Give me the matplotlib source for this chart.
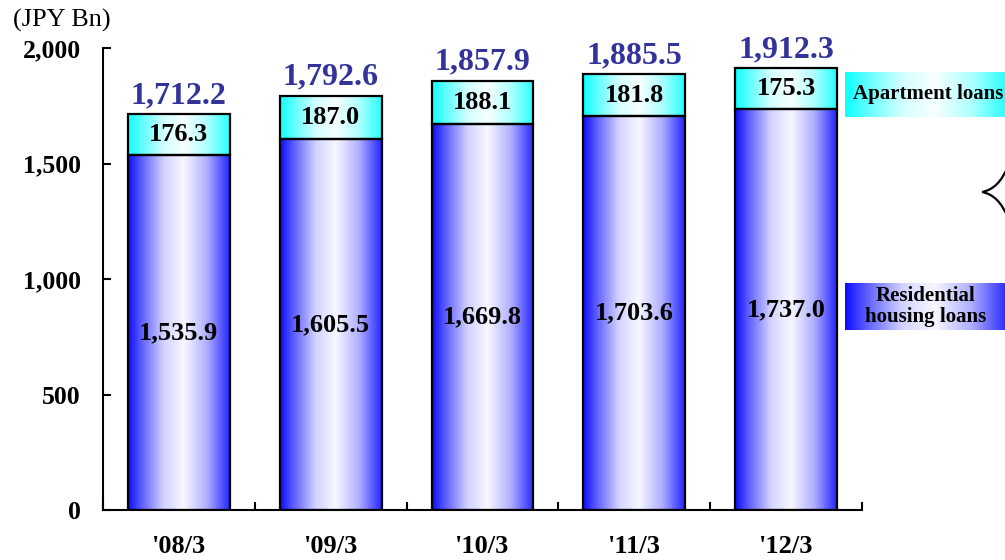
"""Housing loan balance by fiscal year end: residential vs apartment loans."""
import numpy as np
import matplotlib
matplotlib.use("Agg")
import matplotlib.pyplot as plt
from matplotlib.path import Path as MPath
from matplotlib.patches import PathPatch

plt.rcParams["font.family"] = ["Liberation Serif", "DejaVu Serif"]

# ── data ────────────────────────────────────────────────────────────────
periods = ["'08/3", "'09/3", "'10/3", "'11/3", "'12/3"]
residential = [1535.9, 1605.5, 1669.8, 1703.6, 1737.0]
apartment = [176.3, 187.0, 188.1, 181.8, 175.3]
totals = [1712.2, 1792.6, 1857.9, 1885.5, 1912.3]
y_ticks = [0, 500, 1000, 1500, 2000]

TOTAL_COLOR = "#333399"
BAR_WIDTH = 0.67


def gradient(edge, n=256):
    """Horizontal gradient: saturated edges, near-white just right of centre."""
    edge = np.array(edge, dtype=float)
    white = np.array([0.97, 0.97, 1.0])
    stops = [0.0, 0.12, 0.35, 0.55, 0.78, 1.0]
    mix = [0.05, 0.35, 0.85, 1.0, 0.7, 0.15]   # 0 = edge colour, 1 = white
    xs = np.linspace(0, 1, n)
    t = np.interp(xs, stops, mix)
    rgb = edge[None, :] * (1 - t[:, None]) + white[None, :] * t[:, None]
    return rgb[None, :, :]


BLUE_GRAD = gradient((0.0, 0.0, 1.0))
CYAN_GRAD = gradient((0.0, 1.0, 1.0))
CYAN_GRAD[..., 1] = 1.0
CYAN_GRAD[..., 2] = 1.0

fig = plt.figure(figsize=(10.05, 5.6), dpi=100)
ax = fig.add_axes([103 / 1005, 1 - 510 / 560, 759 / 1005, 462 / 560])

x = np.arange(len(periods))
for i, (r, a, tot) in enumerate(zip(residential, apartment, totals)):
    x0, x1 = i - BAR_WIDTH / 2, i + BAR_WIDTH / 2
    ax.imshow(BLUE_GRAD, extent=[x0, x1, 0, r], aspect="auto", zorder=2,
              interpolation="bilinear")
    ax.imshow(CYAN_GRAD, extent=[x0, x1, r, r + a], aspect="auto", zorder=2,
              interpolation="bilinear")
    ax.text(i, r / 2, f"{r:,.1f}", ha="center", va="center",
            fontsize=19, fontweight="bold", zorder=4)
    ax.text(i, r + a / 2, f"{a:,.1f}", ha="center", va="center",
            fontsize=19, fontweight="bold", zorder=4)
    ax.annotate(f"{tot:,.1f}", (i, tot), xytext=(0, 3), textcoords="offset points",
                ha="center", va="bottom", fontsize=23, fontweight="bold",
                color=TOTAL_COLOR, zorder=4)

# outlines drawn on top of the gradients
ax.bar(x, residential, BAR_WIDTH, fill=False, edgecolor="black", linewidth=1.6, zorder=3)
ax.bar(x, apartment, BAR_WIDTH, bottom=residential, fill=False,
       edgecolor="black", linewidth=1.6, zorder=3)

ax.set_xlim(-0.5, len(periods) - 0.5)
ax.set_ylim(0, 2000)
ax.set_yticks(y_ticks)
ax.set_yticklabels([f"{v:,}" for v in y_ticks], fontsize=18.5, fontweight="bold")
ax.set_xticks(x)
ax.set_xticklabels(periods, fontsize=19, fontweight="bold")
ax.set_xticks(np.arange(-0.5, len(periods)), minor=True)
ax.tick_params(axis="x", which="major", length=0, pad=18)
ax.tick_params(axis="x", which="minor", direction="in", length=6, width=1.5)
ax.tick_params(axis="y", direction="in", length=6, width=1.5, pad=16)
for side in ("top", "right"):
    ax.spines[side].set_visible(False)
for side in ("left", "bottom"):
    ax.spines[side].set_linewidth(1.5)

fig.text(13 / 1005, 1 - 20 / 560, "(JPY Bn)", fontsize=19, va="center", ha="left")

# legend boxes on the right
def legend_box(y_top, y_bot, grad, label, **kw):
    lax = fig.add_axes([845 / 1005, 1 - y_bot / 560, 162 / 1005, (y_bot - y_top) / 560])
    lax.imshow(grad, extent=[0, 1, 0, 1], aspect="auto", interpolation="bilinear")
    lax.set_axis_off()
    lax.text(kw.pop("tx", 0.5), 0.5, label, transform=lax.transAxes,
             fontsize=15, fontweight="bold", va="center", linespacing=1.05, **kw)


legend_box(72, 117, CYAN_GRAD, "Apartment loans", tx=0.05, ha="left")
legend_box(283, 330, BLUE_GRAD, "Residential\nhousing loans", tx=0.5, ha="center")

# partial brace at the right edge: two curves meeting in a cusp
def fpt(px, py):
    return (px / 1005, 1 - py / 560)


for end_y, ctrl_y in ((166, 189), (218, 195)):
    verts = [fpt(982, 192), fpt(999, ctrl_y), fpt(1008, end_y)]
    codes = [MPath.MOVETO, MPath.CURVE3, MPath.CURVE3]
    fig.add_artist(PathPatch(MPath(verts, codes), transform=fig.transFigure,
                             fill=False, edgecolor="black", linewidth=1.6))

fig.savefig("out.png", dpi=100)
